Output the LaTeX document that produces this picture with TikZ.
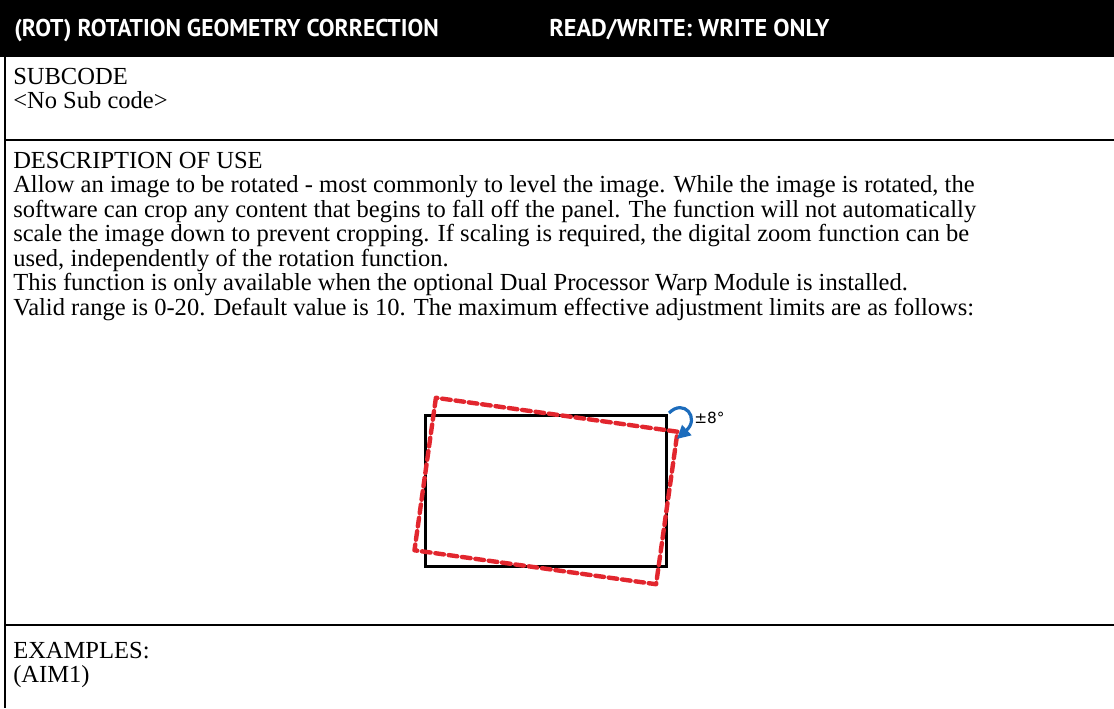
\documentclass[tikz,border=0pt]{standalone}
\usepackage{fontspec}
\setmainfont{Liberation Serif}
\newfontfamily\headfont{PT Sans}
\newfontfamily\labelfont{DejaVu Sans}
\usetikzlibrary{arrows.meta}
\definecolor{rotred}{RGB}{226,38,46}
\definecolor{rotblue}{RGB}{28,108,188}

\begin{document}
\begin{tikzpicture}[x=0.75pt,y=-0.75pt,
  body/.style={anchor=base west, inner sep=0pt, font=\fontsize{18.4pt}{20pt}\selectfont},
  head/.style={anchor=base west, inner sep=0pt, text=white,
    font=\headfont\bfseries\fontsize{18.2pt}{20pt}\selectfont},
  rowrule/.style={line width=1.6pt},
  frame/.style={line width=2.6pt, line cap=rect},
  turned/.style={draw=rotred, line width=3.3pt, dash pattern=on 6.5pt off 3.6pt, line cap=round, line join=round},
  turnarrow/.style={draw=rotblue, line width=2.4pt, -{Triangle[length=10pt,width=10pt]}}
]
\useasboundingbox (0,0) rectangle (1114,708);

% title band
\fill[black] (0,0) rectangle (1114,57);
\node[head, xscale=0.97] (title) at (14,36) {(ROT) ROTATION GEOMETRY CORRECTION};
\node[head] (access) at (549,36) {READ/WRITE: WRITE ONLY};

% table frame
\draw[line width=1.2pt] (5,57) -- (5,708);
\draw[rowrule] (5,140) -- (1114,140);
\draw[rowrule] (5,625) -- (1114,625);

% subcode row
\node[body] (subhead) at (13,84) {SUBCODE};
\node[body] (subval) at (13,108.5) {<No Sub code>};

% description row
\node[body] (deschead) at (13,168) {DESCRIPTION OF USE};
\node[body] (d1) at (13,192.5) {Allow an image to be rotated - most commonly to level the image. While the image is rotated, the};
\node[body] (d2) at (13,217) {software can crop any content that begins to fall off the panel. The function will not automatically};
\node[body] (d3) at (13,241.5) {scale the image down to prevent cropping. If scaling is required, the digital zoom function can be};
\node[body] (d4) at (13,266) {used, independently of the rotation function.};
\node[body] (d5) at (13,290.5) {This function is only available when the optional Dual Processor Warp Module is installed.};
\node[body] (d6) at (13,315) {Valid range is 0-20. Default value is 10. The maximum effective adjustment limits are as follows:};

% panel outline and its rotated copy
\coordinate (c) at (546,491);
\draw[frame] (425.5,415.5) rectangle (666.5,566.5);
\draw[turned, rotate around={-8:(c)}] (424,414) rectangle (668,568);

% rotation direction arrow and limit
\coordinate (arcstart) at (669,413);
\coordinate (arcend) at (677,439);
\draw[turnarrow] (arcstart) .. controls (684,398) and (700,418) .. (arcend);
\node[anchor=west, inner sep=0pt, font=\labelfont\fontsize{11.5pt}{13pt}\selectfont] (limit) at (694,418) {±8°};

% examples row
\node[body] (exhead) at (13,658) {EXAMPLES:};
\node[body] (exval) at (13,682.5) {(AIM1)};
\end{tikzpicture}
\end{document}
